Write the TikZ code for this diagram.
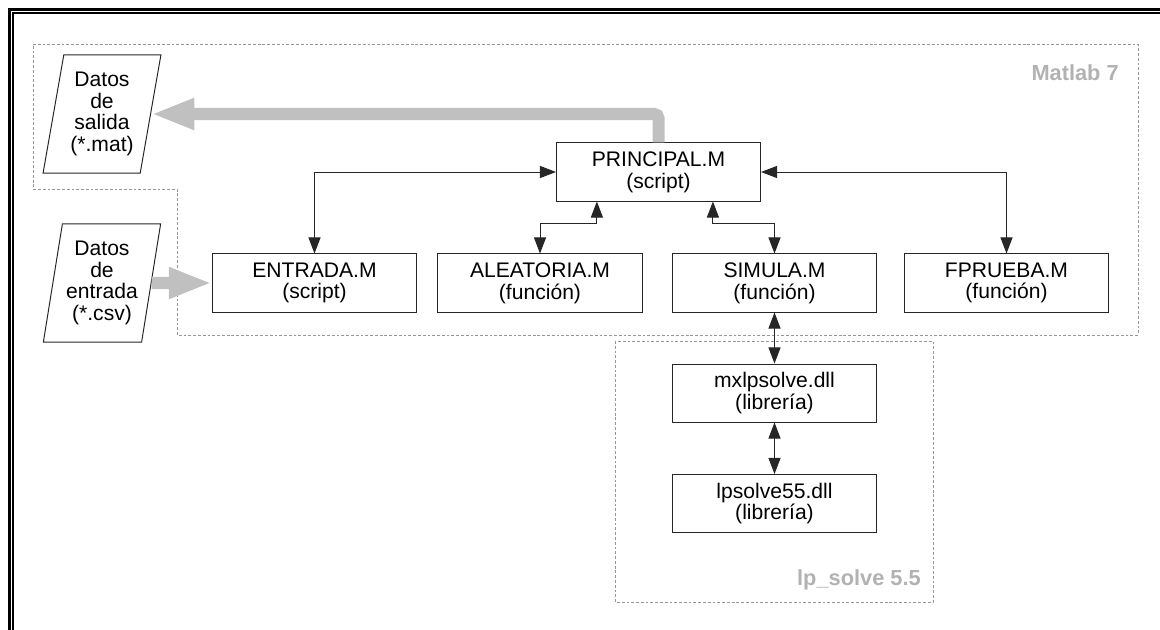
\documentclass[tikz,border=0pt]{standalone}
\usepackage{fontspec}
\setmainfont{Liberation Sans}
\usetikzlibrary{shapes.geometric}
\usetikzlibrary{arrows.meta, positioning}
\definecolor{flowgray}{RGB}{192,192,192}
\definecolor{labelgray}{RGB}{178,178,178}
\definecolor{regiongray}{RGB}{150,150,150}

\begin{document}
\begin{tikzpicture}[x=0.025cm, y=-0.025cm,
    every node/.style={font=\fontsize{15}{15.5}\selectfont, align=center},
    modbox/.style={draw=black!85, line width=0.7pt, minimum width=5.1cm,
        minimum height=1.45cm, inner sep=0pt},
    datbox/.style={draw=black!85, line width=0.7pt, trapezium,
        trapezium left angle=78.5, trapezium right angle=101.5,
        trapezium stretches=true, minimum width=2.95cm, minimum height=2.95cm,
        inner sep=0pt},
    link/.style={{Triangle[length=0.4cm,width=0.3cm]}-{Triangle[length=0.4cm,width=0.3cm]},
        line width=0.7pt, black!85},
    flow/.style={-{Triangle[length=1.08cm,width=0.72cm]}, line width=0.3cm,
        flowgray, rounded corners=3pt},
    region/.style={regiongray, line width=0.6pt, dash pattern=on 2pt off 1.4pt},
    regionlabel/.style={font=\fontsize{15.5}{16}\selectfont\bfseries, text=labelgray,
        anchor=base east, inner sep=0pt}]
    \useasboundingbox (0,0) rectangle (1160,630);

    % marco doble
    \draw[line width=2.1pt] (9.5,630) -- (9.5,9.5) -- (1160,9.5);
    \draw[line width=0.9pt] (13,630) -- (13,13) -- (1160,13);

    % zonas
    \draw[region] (33,44) -- (1138,44) -- (1138,335) -- (177,335)
        -- (177,189) -- (33,189) -- cycle;
    \draw[region] (615,341) rectangle (933,602);
    \node[regionlabel] (matlab) at (1119,81) {Matlab 7};
    \node[regionlabel] (lpsolve) at (921,585) {lp\_solve 5.5};

    % modulos
    \node[modbox] (principal) at (658.5,172) {PRINCIPAL.M\\(script)};
    \node[modbox] (entrada) at (314.5,283) {ENTRADA.M\\(script)};
    \node[modbox] (aleatoria) at (540,283) {ALEATORIA.M\\(función)};
    \node[modbox] (simula) at (774.5,283) {SIMULA.M\\(función)};
    \node[modbox] (fprueba) at (1006.5,283) {FPRUEBA.M\\(función)};
    \node[modbox] (mxlp) at (774.5,393) {mxlpsolve.dll\\(librería)};
    \node[modbox] (lpdll) at (774.5,503.5) {lpsolve55.dll\\(librería)};

    % datos
    \node[datbox] (salida) at (102,114) {Datos\\de\\salida\\(*.mat)};
    \node[datbox] (entdat) at (102,283) {Datos\\de\\entrada\\(*.csv)};

    % enlaces
    \draw[link] (principal.west) -| (entrada.north);
    \draw[link] (principal.east) -| (fprueba.north);
    \draw[link] ([xshift=-1.54cm]principal.south) |- ([yshift=0.75cm]aleatoria.north)
        -- (aleatoria.north);
    \draw[link] ([xshift=1.36cm]principal.south) |- ([yshift=0.75cm]simula.north)
        -- (simula.north);
    \draw[link] (simula.south) -- (mxlp.north);
    \draw[link] (mxlp.south) -- (lpdll.north);

    % flujo de datos
    \draw[flow] (principal.north) |- (salida.east);
    \draw[flow] (entdat.east) -- (entrada.west);

\end{tikzpicture}
\end{document}
